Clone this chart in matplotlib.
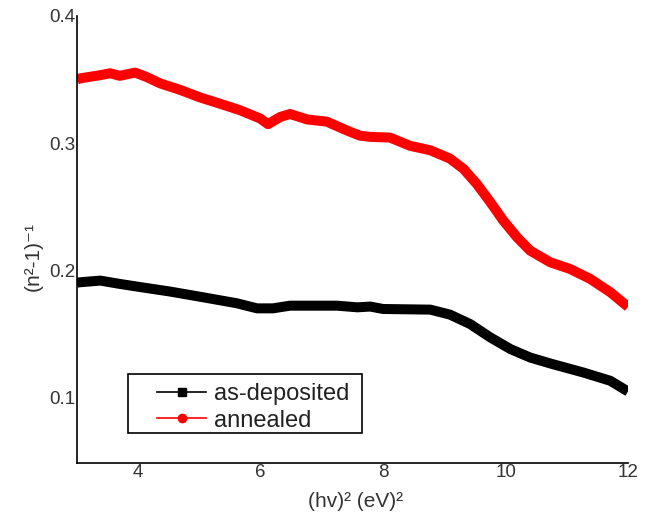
import matplotlib
matplotlib.use("Agg")
import matplotlib.pyplot as plt
from matplotlib.lines import Line2D
from matplotlib.patches import Rectangle

plt.rcParams['font.family'] = ['Liberation Sans', 'DejaVu Sans']

# as-deposited
x_dep = [3.0, 3.05, 3.38, 3.70, 3.98, 4.52, 5.06, 5.61, 5.94, 6.20, 6.48, 7.25, 7.58,
         7.79, 8.0, 8.77, 9.09, 9.42, 9.75, 10.08, 10.40, 10.73, 11.27, 11.71, 12.0]
y_dep = [0.1905, 0.1908, 0.1921, 0.1895, 0.1874, 0.1835, 0.179, 0.1743, 0.1703, 0.1703,
         0.1724, 0.1724, 0.1711, 0.1717, 0.1698, 0.1693, 0.1654, 0.158, 0.1475, 0.1383,
         0.1317, 0.127, 0.1199, 0.1134, 0.1050]

# annealed
x_ann = [3.0, 3.05, 3.38, 3.54, 3.70, 3.95, 4.14, 4.36, 4.68, 5.01, 5.34, 5.66, 5.99,
         6.12, 6.32, 6.48, 6.76, 7.08, 7.41, 7.62, 7.79, 8.11, 8.44, 8.77, 9.09, 9.31,
         9.53, 9.75, 9.96, 10.19, 10.40, 10.73, 11.05, 11.38, 11.71, 12.0]
y_ann = [0.350, 0.351, 0.3535, 0.355, 0.353, 0.3555, 0.352, 0.347, 0.342, 0.336, 0.331,
         0.326, 0.3195, 0.315, 0.3207, 0.323, 0.3187, 0.317, 0.310, 0.306, 0.305, 0.3045,
         0.298, 0.2945, 0.288, 0.280, 0.268, 0.2538, 0.2394, 0.226, 0.2157, 0.2065,
         0.2013, 0.1935, 0.183, 0.1715]

x_ticks = [4, 6, 8, 10, 12]
y_ticks = [0.1, 0.2, 0.3, 0.4]
labels = ['as-deposited', 'annealed']

fig = plt.figure(figsize=(6.51, 5.19), dpi=100)
ax = fig.add_axes([0.1183, 0.1079, 0.8464, 0.8613])

ax.plot(x_dep, y_dep, color='black', lw=7.2, solid_capstyle='butt', solid_joinstyle='round')
ax.plot(x_ann, y_ann, color='red', lw=7.2, solid_capstyle='butt', solid_joinstyle='round')

ax.set_xlim(3, 12)
ax.set_ylim(0.0488, 0.4)
ax.set_xticks(x_ticks)
ax.set_xticklabels([str(v) for v in x_ticks])
ax.set_yticks(y_ticks)
ax.set_yticklabels([f"{v:.1f}" for v in y_ticks])
ax.tick_params(axis='both', length=0, labelsize=13.5, labelcolor='#333333', pad=1)

for s in ['top', 'right']:
    ax.spines[s].set_visible(False)
for s in ['left', 'bottom']:
    ax.spines[s].set_linewidth(1.2)

ax.set_xlabel('(hv)² (eV)²', fontsize=15, color='#333333')
ax.xaxis.set_label_coords(0.506, -0.064)
ax.set_ylabel('(n²-1)⁻¹', fontsize=15, color='#333333')
ax.yaxis.set_label_coords(-0.062, 0.463)

# legend frame
ax.add_patch(Rectangle((0.0926, 0.067), 0.4247, 0.132, transform=ax.transAxes,
                       facecolor='white', edgecolor='black', lw=1.2, zorder=4))

handles = [Line2D([], [], color='black', lw=1.2, marker='s', markersize=6),
           Line2D([], [], color='red', lw=1.2, marker='o', markersize=6)]
leg = ax.legend(handles, labels, loc='upper left',
                bbox_to_anchor=(0.145, 0.179), fontsize=17, frameon=False,
                handlelength=2.1, borderpad=0, labelspacing=0.2,
                handletextpad=0.3, borderaxespad=0)
leg.set_zorder(5)
for t in leg.get_texts():
    t.set_color('#222222')

fig.savefig('out.png', dpi=100)
